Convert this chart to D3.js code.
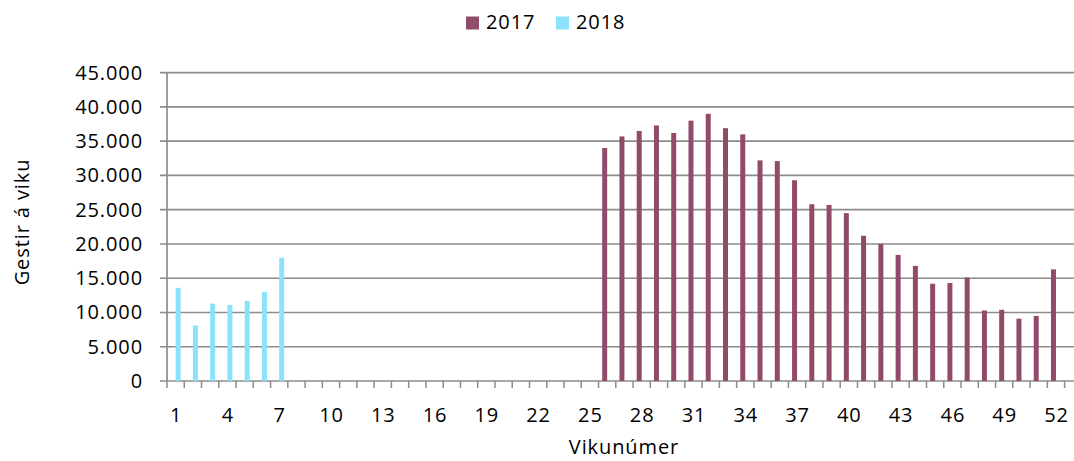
<!DOCTYPE html>
<meta charset="utf-8">
<script src="https://d3js.org/d3.v7.min.js"></script>
<style>
  body { margin: 0; background: #fff; }
  svg text { font-family: "Open Sans", sans-serif; font-size: 20px; fill: #000; letter-spacing: 0.9px; }
</style>
<div id="chart"></div>
<script>
  // weeks 1..52
  var weeks = d3.range(1, 53);
  var weekLabels = [1, 4, 7, 10, 13, 16, 19, 22, 25, 28, 31, 34, 37, 40, 43, 46, 49, 52];
  var series = ["2017", "2018"];
  var colors = ["#914a6a", "#8ae2fd"];
  var yTicks = [0, 5000, 10000, 15000, 20000, 25000, 30000, 35000, 40000, 45000];

  // 2017: weeks 26-52
  var weeks2017 = [26, 27, 28, 29, 30, 31, 32, 33, 34, 35, 36, 37, 38, 39,
    40, 41, 42, 43, 44, 45, 46, 47, 48, 49, 50, 51, 52];
  var values2017 = [34000, 35700, 36500, 37300, 36200, 38000, 39000, 36900, 36000, 32200, 32100, 29300, 25800, 25700,
    24500, 21200, 20000, 18400, 16800, 14200, 14300, 15100, 10300, 10400, 9100, 9500, 16300];

  // 2018: weeks 1-7
  var weeks2018 = [1, 2, 3, 4, 5, 6, 7];
  var values2018 = [13600, 8100, 11300, 11100, 11700, 13000, 18000];

  var W = 1074, H = 461;
  var plotLeft = 167, plotRight = 1064.6, plotTop = 72.7, plotBottom = 381;

  var svg = d3.select("#chart").append("svg")
    .attr("width", W)
    .attr("height", H);

  var x = d3.scaleBand().domain(weeks).range([plotLeft, plotRight]).padding(0);
  var xs = d3.scaleBand().domain(series).range([0, x.bandwidth()]).paddingInner(0).paddingOuter(0.73);
  var y = d3.scaleLinear().domain([0, 45000]).range([plotBottom, plotTop]);

  var fmt = function (d) { return d3.format(",")(d).replace(/,/g, "."); };

  // gridlines
  svg.append("g")
    .selectAll("line")
    .data(yTicks)
    .enter().append("line")
    .attr("x1", plotLeft - 7)
    .attr("x2", W)
    .attr("y1", function (d) { return y(d); })
    .attr("y2", function (d) { return y(d); })
    .attr("stroke", "#8c8c8c")
    .attr("stroke-width", 1.7);

  // y axis line
  svg.append("line")
    .attr("x1", plotLeft).attr("x2", plotLeft)
    .attr("y1", plotTop).attr("y2", plotBottom)
    .attr("stroke", "#8c8c8c")
    .attr("stroke-width", 1.7);

  // y labels
  svg.append("g")
    .selectAll("text")
    .data(yTicks)
    .enter().append("text")
    .attr("x", 143)
    .attr("y", function (d) { return y(d) + 7; })
    .attr("text-anchor", "end")
    .text(fmt);

  // x tick marks at band edges
  var edges = weeks.map(function (w) { return x(w); }).concat([x(52) + x.bandwidth()]);
  svg.append("g")
    .selectAll("line")
    .data(edges)
    .enter().append("line")
    .attr("x1", function (d) { return d; })
    .attr("x2", function (d) { return d; })
    .attr("y1", plotBottom)
    .attr("y2", plotBottom + 7)
    .attr("stroke", "#8c8c8c")
    .attr("stroke-width", 1.5);

  // x labels
  svg.append("g")
    .selectAll("text")
    .data(weekLabels)
    .enter().append("text")
    .attr("x", function (d) { return x(d) + x.bandwidth() / 2 + 0.5; })
    .attr("y", 422)
    .attr("text-anchor", "middle")
    .text(function (d) { return d; });

  // bars
  var data2017 = weeks2017.map(function (w, i) { return { week: w, value: values2017[i] }; });
  var data2018 = weeks2018.map(function (w, i) { return { week: w, value: values2018[i] }; });
  [data2017, data2018].forEach(function (data, si) {
    svg.append("g")
      .selectAll("rect")
      .data(data)
      .enter().append("rect")
      .attr("x", function (d) { return x(d.week) + xs(series[si]); })
      .attr("width", xs.bandwidth())
      .attr("y", function (d) { return y(d.value); })
      .attr("height", function (d) { return y(0) - y(d.value); })
      .attr("fill", colors[si]);
  });

  // axis titles
  svg.append("text")
    .attr("text-anchor", "middle")
    .attr("transform", "translate(29,222)rotate(-90)")
    .text("Gestir á viku");

  svg.append("text")
    .attr("x", 624)
    .attr("y", 454)
    .attr("text-anchor", "middle")
    .text("Vikunúmer");

  // legend
  var legX = [466, 556];
  series.forEach(function (s, i) {
    svg.append("rect")
      .attr("x", legX[i]).attr("y", 16.5)
      .attr("width", 13).attr("height", 13)
      .attr("fill", colors[i]);
    svg.append("text")
      .attr("x", legX[i] + 20)
      .attr("y", 29)
      .text(s);
  });
</script>
